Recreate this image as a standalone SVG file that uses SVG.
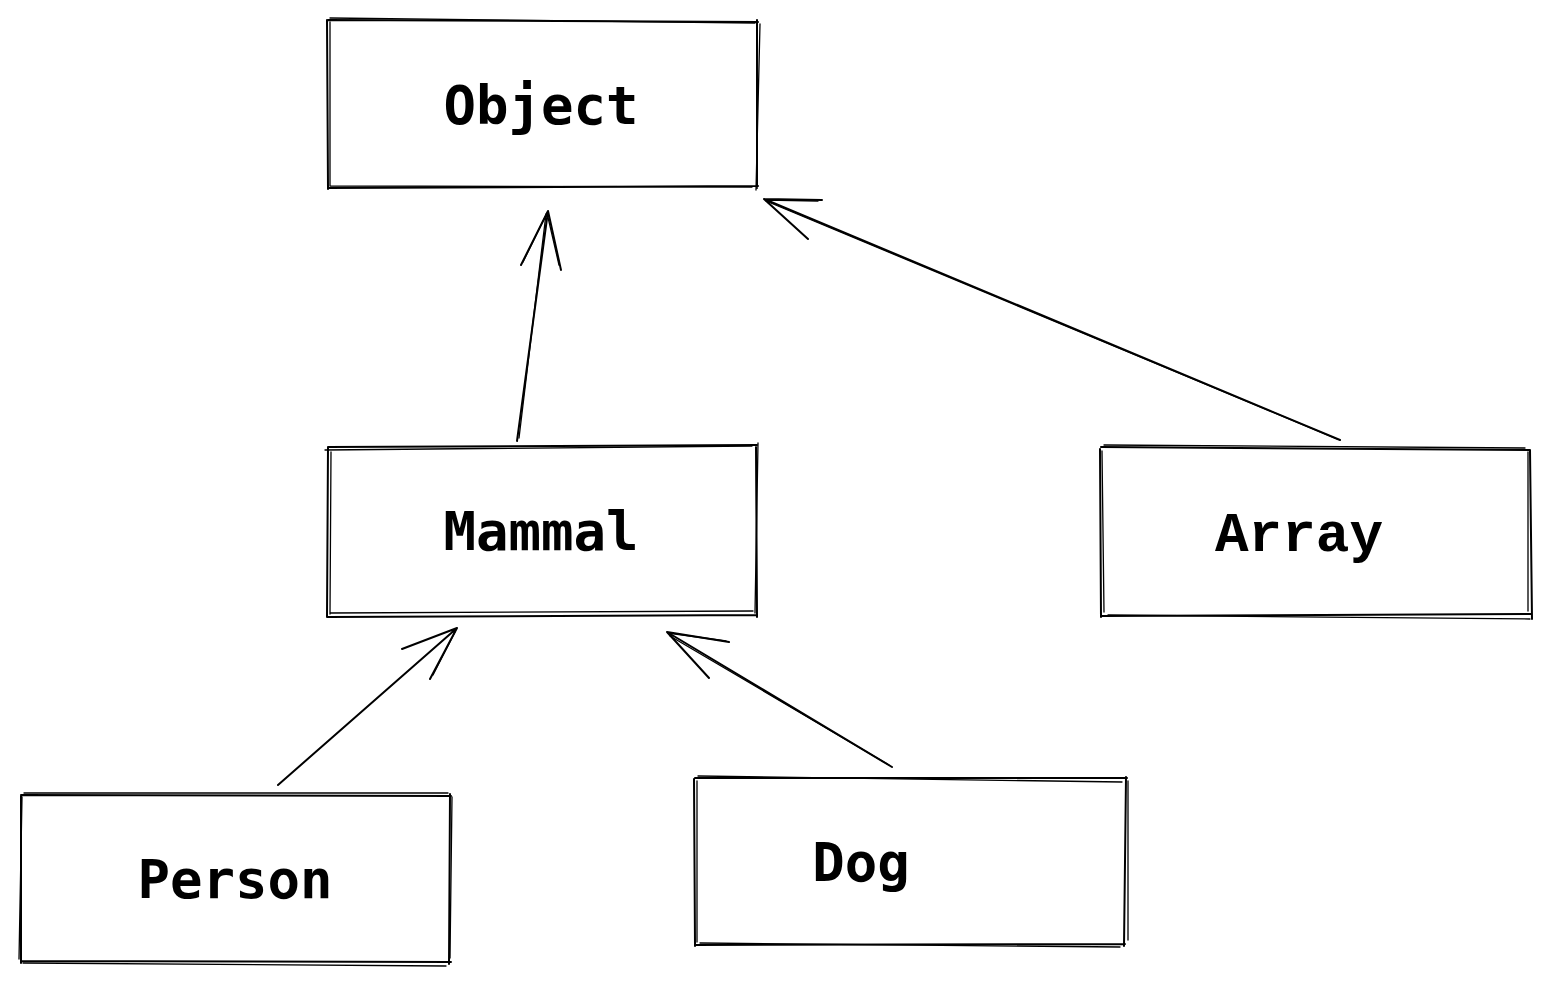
<svg xmlns="http://www.w3.org/2000/svg" width="1550" height="983" viewBox="0 0 1550 983">
<style>
.s{fill:none;stroke:#000;stroke-width:2;stroke-linecap:round;stroke-linejoin:round}
.t{stroke-width:1.3}
.dv{font-family:"DejaVu Sans Mono",monospace;font-weight:bold;font-size:54px;fill:#000}
.lm{font-family:"Liberation Mono",monospace;font-weight:bold;font-size:56px;fill:#000}
</style>
<rect width="1550" height="983" fill="#fff"/>
<g id="object">
<path class="s" d="M328 20 L758 22 M757 20 L757 188 M758 186 L328 188 M328 189 L327 20"/>
<path class="s t" d="M330 18 L755 23 M760 24 L756 190 M752 187 L330 186 M330 186 L330 22"/>
<text class="dv" x="541" y="124" text-anchor="middle">Object</text>
</g>
<g id="mammal">
<path class="s" d="M328 447 L757 445 M756 447 L757 617 M757 615 L328 617 M327 617 L328 447"/>
<path class="s t" d="M325 450 L752 446 M758 443 L755 613 M753 611 L330 613 M330 614 L331 452"/>
<text class="dv" x="541" y="550" text-anchor="middle">Mammal</text>
</g>
<g id="array">
<path class="s" d="M1101 447 L1530 450 M1530 450 L1532 619 M1532 614 L1102 616 M1101 617 L1100 449"/>
<path class="s t" d="M1104 445 L1525 448 M1528 452 L1528 611 M1530 619 L1108 615 M1104 612 L1102 451"/>
<text class="lm" x="1299" y="551" text-anchor="middle">Array</text>
</g>
<g id="person">
<path class="s" d="M21 795 L451 796 M450 794 L449 964 M451 962 L22 961 M21 963 L21 796"/>
<path class="s t" d="M24 793 L448 793 M452 797 L450 958 M446 966 L23 963 M19 959 L22 797"/>
<text class="dv" x="235" y="898" text-anchor="middle">Person</text>
</g>
<g id="dog">
<path class="s" d="M695 778 L1127 778 M1126 777 L1124 946 M1125 944 L696 945 M695 946 L694 779"/>
<path class="s t" d="M698 776 L1122 782 M1128 781 L1128 940 M1120 947 L700 943 M697 942 L697 781"/>
<text class="dv" x="861" y="881" text-anchor="middle">Dog</text>
</g>
<g id="connectors">
<path class="s" d="M517 441 L548 211 M521 265 L548 211 L561 270"/>
<path class="s t" d="M519 438 L546 214 M523 262 L547 213 L559 265"/>
<path class="s" d="M1340 440 L764 199 M822 200 L764 199 L808 239"/>
<path class="s t" d="M1337 439 L766 201 M818 201 L766 200"/>
<path class="s" d="M278 785 L457 628 M402 649 L457 628 L430 679"/>
<path class="s t" d="M433 675 L455 632"/>
<path class="s" d="M892 767 L667 632 M729 642 L667 632 L709 678"/>
<path class="s t" d="M889 765 L670 636 M726 641 L668 633"/>
</g>
</svg>
